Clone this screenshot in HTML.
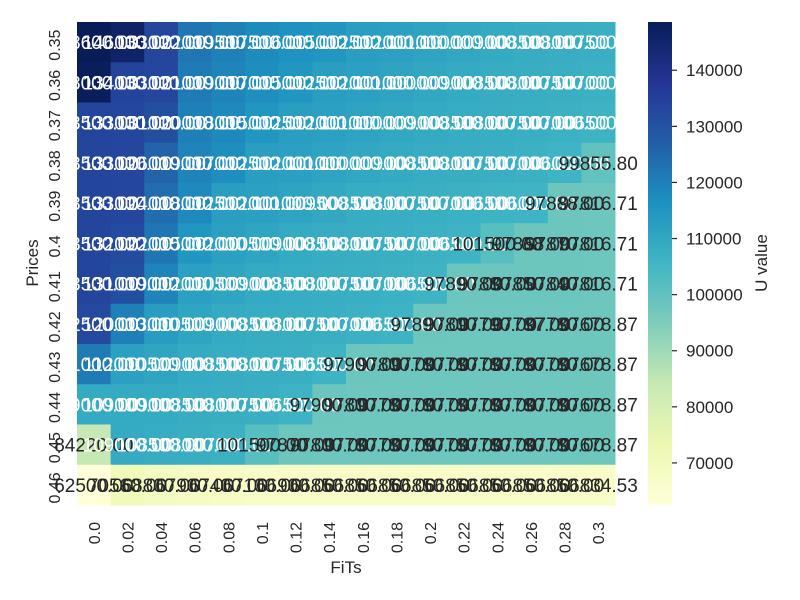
<!DOCTYPE html>
<html><head><meta charset="utf-8"><style>
html,body{margin:0;padding:0;background:#fff;}
svg{display:block;font-family:"Liberation Sans",Arial,sans-serif;}
</style></head><body>
<svg id="chart" width="800" height="600" viewBox="0 0 800 600">
<defs>
<linearGradient id="cbgrad" x1="0" y1="1" x2="0" y2="0">
<stop offset="0" stop-color="#ffffd9"/><stop offset="0.125" stop-color="#edf8b1"/><stop offset="0.25" stop-color="#c7e9b4"/><stop offset="0.375" stop-color="#7fcdbb"/><stop offset="0.5" stop-color="#41b6c4"/><stop offset="0.625" stop-color="#1d91c0"/><stop offset="0.75" stop-color="#225ea8"/><stop offset="0.875" stop-color="#253494"/><stop offset="1" stop-color="#081d58"/>
</linearGradient>
</defs>
<g id="cells"></g>
<g id="annots"></g>
<g id="xticks"></g>
<g id="yticks"></g>
<rect x="648" y="22" width="24" height="483" fill="url(#cbgrad)"/>
<g id="cbticks"></g>
<text x="346" y="573" font-size="17" fill="#262626" text-anchor="middle">FiTs</text>
<text transform="translate(38,263) rotate(-90)" font-size="17" fill="#262626" text-anchor="middle">Prices</text>
<text transform="translate(767,263) rotate(-90)" font-size="17" fill="#262626" text-anchor="middle">U value</text>
</svg>
<script>
const fits = ["0.0","0.02","0.04","0.06","0.08","0.1","0.12","0.14","0.16","0.18","0.2","0.22","0.24","0.26","0.28","0.3"];
const prices = ["0.35","0.36","0.37","0.38","0.39","0.4","0.41","0.42","0.43","0.44","0.45","0.46"];
const row035 = [148600,146000,133000,122000,119500,117500,116000,115000,112500,112000,111000,110000,109000,108500,108000,107500];
const row036 = [148000,134000,133000,121000,119000,117000,115000,112500,112000,111000,110000,109000,108500,108000,107500,107000];
const row037 = [133500,133000,131000,120000,118000,115000,112500,112000,111000,110000,109000,108500,108000,107500,107000,106500];
const row038 = [133500,133000,126000,119000,117000,112500,112000,111000,110000,109000,108500,108000,107500,107000,106000,99855.80];
const row039 = [133500,133000,124000,118000,112500,112000,111000,109500,108500,108000,107500,107000,106500,106000,97888,97816.71];
const row040 = [133500,132000,122000,115000,112000,110500,109000,108500,108000,107500,107000,106500,101500,97868,97870,97816.71];
const row041 = [133500,131000,119000,112000,110500,109000,108500,108000,107500,107000,106500,97890,97880,97850,97840,97816.71];
const row042 = [132500,120000,113000,110500,109000,108500,108000,107500,107000,106500,97890,97800,97790,97787,97780,97678.87];
const row043 = [121000,112000,110500,109000,108500,108000,107500,106500,97900,97800,97780,97780,97780,97780,97780,97678.87];
const row044 = [109000,109000,109000,108500,108000,107500,106500,97900,97800,97780,97780,97780,97780,97780,97780,97678.87];
const row045 = [84220,109000,108500,108000,107000,101500,97870,97800,97780,97780,97780,97780,97780,97780,97780,97678.87];
const row046 = [62500,70560,68800,67900,67400,67100,66900,66850,66850,66850,66850,66850,66850,66850,66850,66834.53];
const grid = [row035,row036,row037,row038,row039,row040,row041,row042,row043,row044,row045,row046];
const cbTicks = [70000,80000,90000,100000,110000,120000,130000,140000];

const X0=77, X1=615, Y0=22, Y1=505;
const cw=(X1-X0)/fits.length, ch=(Y1-Y0)/prices.length;
let all=[]; grid.forEach(r=>all=all.concat(r));
const vmin=Math.min(...all), vmax=Math.max(...all);
const stops=[[0,[255,255,217]],[0.125,[237,248,177]],[0.25,[199,233,180]],[0.375,[127,205,187]],[0.5,[65,182,196]],[0.625,[29,145,192]],[0.75,[34,94,168]],[0.875,[37,52,148]],[1,[8,29,88]]];
function cmap(v){let t=(v-vmin)/(vmax-vmin);t=Math.max(0,Math.min(1,t));
 for(let i=1;i<stops.length;i++){if(t<=stops[i][0]){const a=stops[i-1],b=stops[i];const f=(t-a[0])/(b[0]-a[0]);
 return a[1].map((c,k)=>Math.round(c+(b[1][k]-c)*f));}} return stops[8][1];}
function lum(c){const l=c.map(x=>{x/=255;return x<=0.03928?x/12.92:Math.pow((x+0.055)/1.055,2.4)});return 0.2126*l[0]+0.7152*l[1]+0.0722*l[2];}
const NS="http://www.w3.org/2000/svg";
const xs=i=>X0+i*cw, ys=j=>Y0+j*ch;
const gc=document.getElementById('cells'), ga=document.getElementById('annots');
grid.forEach((row,j)=>row.forEach((v,i)=>{
 const c=cmap(v);
 const r=document.createElementNS(NS,'rect');
 r.setAttribute('x',xs(i));r.setAttribute('y',ys(j));r.setAttribute('width',cw+0.5);r.setAttribute('height',ch+0.5);
 r.setAttribute('fill','rgb('+c.join(',')+')');
 
 
 gc.appendChild(r);
}));
grid.forEach((row,j)=>row.forEach((v,i)=>{
 const c=cmap(v);
 const t=document.createElementNS(NS,'text');
 t.setAttribute('x',xs(i)+cw/2);t.setAttribute('y',ys(j)+ch/2+7);
 t.setAttribute('text-anchor','middle');t.setAttribute('font-size','19');
 t.setAttribute('fill',lum(c)>0.408?'#262626':'#ffffff');
 t.textContent=v.toFixed(2);
 
 
 ga.appendChild(t);
}));
const gx=document.getElementById('xticks');
fits.forEach((f,i)=>{
 const t=document.createElementNS(NS,'text');
 const cx=xs(i)+cw/2+6;
 t.setAttribute('transform','translate('+cx+',522) rotate(-90)');
 t.setAttribute('text-anchor','end');t.setAttribute('font-size','16');t.setAttribute('fill','#262626');
 t.textContent=f;
 
 
 gx.appendChild(t);
});
const gy=document.getElementById('yticks');
prices.forEach((p,j)=>{
 const t=document.createElementNS(NS,'text');
 const cy=ys(j)+ch/2+3;
 t.setAttribute('transform','translate(60,'+cy+') rotate(-90)');
 t.setAttribute('text-anchor','middle');t.setAttribute('font-size','16');t.setAttribute('fill','#262626');
 t.textContent=p;
 
 
 gy.appendChild(t);
});
const gcb=document.getElementById('cbticks');
const cby=v=>Y1-(v-vmin)/(vmax-vmin)*(Y1-Y0);
cbTicks.forEach(v=>{
 const y=cby(v);
 const l=document.createElementNS(NS,'line');
 l.setAttribute('x1',672);l.setAttribute('x2',677);l.setAttribute('y1',y);l.setAttribute('y2',y);
 l.setAttribute('stroke','#262626');l.setAttribute('stroke-width','1.2');
 
 
 gcb.appendChild(l);
 const t=document.createElementNS(NS,'text');
 t.setAttribute('x',686);t.setAttribute('y',y+6);t.setAttribute('font-size','17');t.setAttribute('fill','#262626');
 t.textContent=v;
 
 
 gcb.appendChild(t);
});
</script>
</body></html>
